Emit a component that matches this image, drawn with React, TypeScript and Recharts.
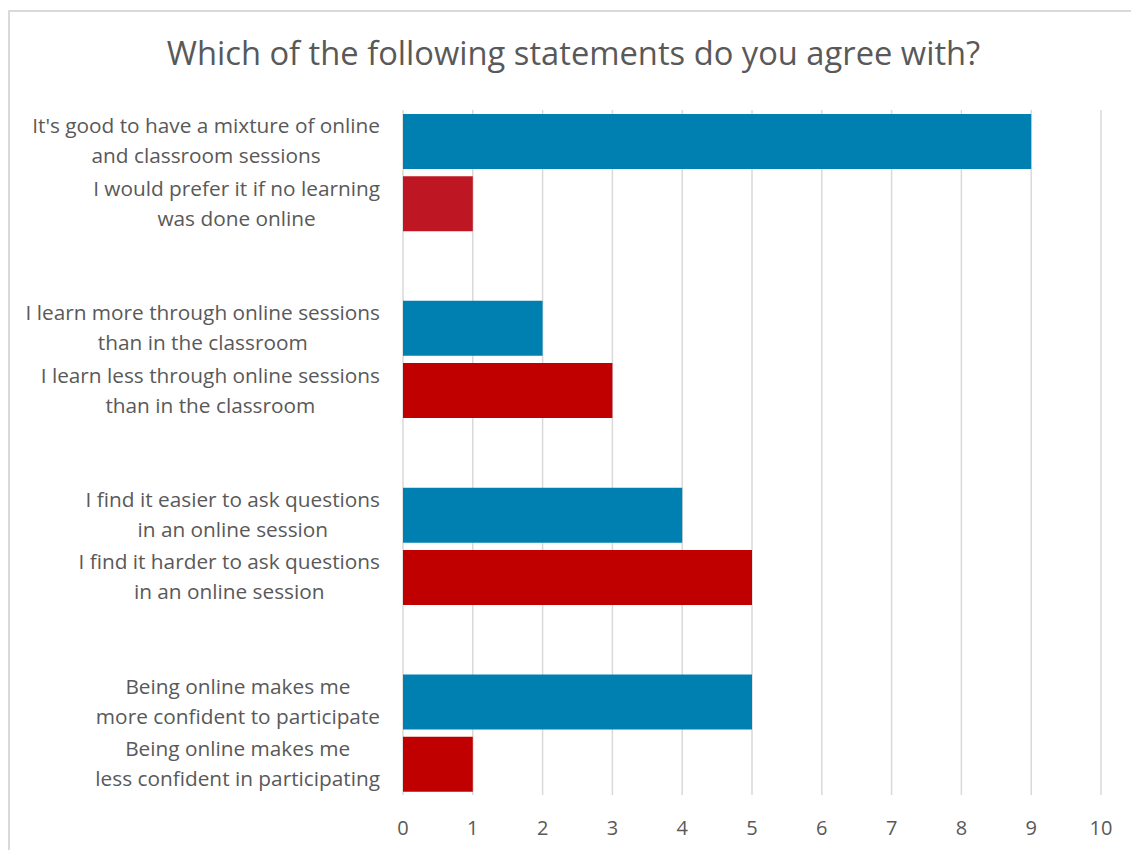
import React, { useLayoutEffect, useRef, useState } from "react";
import { BarChart, Bar, XAxis, YAxis, CartesianGrid, Cell } from "recharts";

const TITLE = "Which of the following statements do you agree with?";

const categoryKeys = ["s1", "s2", "gap1", "s3", "s4", "gap2", "s5", "s6", "gap3", "s7", "s8"];
const labelLine1 = [
  "It's good to have a mixture of online",
  "I would prefer it if no learning",
  "",
  "I learn more through online sessions",
  "I learn less through online sessions",
  "",
  "I find it easier to ask questions",
  "I find it harder to ask questions",
  "",
  "Being online makes me",
  "Being online makes me",
];
const labelLine2 = [
  "and classroom sessions",
  "was done online",
  "",
  "than in the classroom",
  "than in the classroom",
  "",
  "in an online session",
  "in an online session",
  "",
  "more confident to participate",
  "less confident in participating",
];
const values: (number | null)[] = [9, 1, null, 2, 3, null, 4, 5, null, 5, 1];
const barColors = ["#0080B1", "#BE1622", "#FFFFFF", "#0080B1", "#C00000", "#FFFFFF", "#0080B1", "#C00000", "#FFFFFF", "#0080B1", "#C00000"];
const xTicks = [0, 1, 2, 3, 4, 5, 6, 7, 8, 9, 10];

const data = categoryKeys.map((k, i) => ({ key: k, value: values[i] }));

const FONT = "'Open Sans', sans-serif";
const LABEL_SIZE = 20.8;
const TEXT_COLOR = "#595959";

const CategoryTick = (props: any) => {
  const { x, y, payload } = props;
  const gRef = useRef<SVGGElement | null>(null);
  const [w, setW] = useState(0);
  const idx = categoryKeys.indexOf(payload.value);
  useLayoutEffect(() => {
    if (gRef.current) {
      const bw = gRef.current.getBBox().width;
      if (Math.abs(bw - w) > 0.5) setW(bw);
    }
  });
  if (idx < 0 || !labelLine1[idx]) return null;
  const l1 = labelLine1[idx];
  const l2 = labelLine2[idx];
  const cx = x - w / 2;
  return (
    <g ref={gRef} transform={`translate(${cx},0)`}>
      <text x={0} y={y - 15} dy="0.35em" textAnchor="middle" fill={TEXT_COLOR} fontSize={LABEL_SIZE} fontFamily={FONT}>
        {l1}
      </text>
      <text x={0} y={y + 15} dy="0.35em" textAnchor="middle" fill={TEXT_COLOR} fontSize={LABEL_SIZE} fontFamily={FONT}>
        {l2}
      </text>
    </g>
  );
};

export default function App() {
  return (
    <div style={{ position: "absolute", left: 0, top: 0, width: 1131, height: 850, overflow: "hidden", background: "#fff" }}>
      <div
        style={{
          position: "absolute",
          left: 8,
          top: 10,
          width: 1160,
          height: 900,
          border: "2px solid #DADADA",
          boxSizing: "border-box",
        }}
      />
      <div
        style={{
          position: "absolute",
          left: 8,
          top: 31,
          width: 1131,
          textAlign: "center",
          fontFamily: FONT,
          fontSize: 32.7,
          lineHeight: "44px",
          color: TEXT_COLOR,
          whiteSpace: "nowrap",
        }}
      >
        {TITLE}
      </div>
      <div style={{ position: "absolute", left: 0, top: 0 }}>
        <BarChart
          width={1131}
          height={850}
          data={data}
          layout="vertical"
          margin={{ top: 110, right: 30, bottom: 0, left: 0 }}
        >
          <CartesianGrid horizontal={false} stroke="#D9D9D9" strokeWidth={1.5} />
          <XAxis
            type="number"
            domain={[0, 10]}
            ticks={xTicks}
            axisLine={false}
            tickLine={false}
            tickMargin={20}
            height={55}
            tick={{ fill: TEXT_COLOR, fontSize: 20, fontFamily: FONT }}
            interval={0}
          />
          <YAxis
            type="category"
            dataKey="key"
            width={403}
            axisLine={false}
            tickLine={false}
            tickMargin={17}
            interval={0}
            tick={<CategoryTick />}
          />
          <Bar dataKey="value" barSize={55} isAnimationActive={false}>
            {data.map((d, i) => (
              <Cell key={d.key} fill={barColors[i]} />
            ))}
          </Bar>
        </BarChart>
      </div>
    </div>
  );
}
